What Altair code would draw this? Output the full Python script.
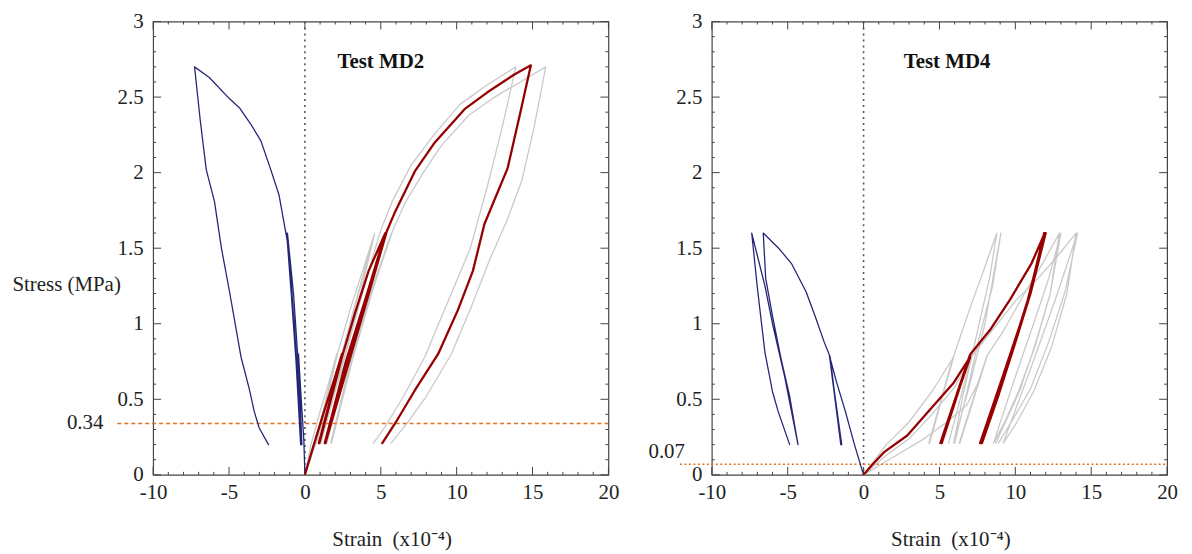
import altair as alt
import pandas as pd

# ---------------- data ----------------
# Test MD2 - lateral strain (blue)
md2_lat_x = [0, -0.07, -0.28, -0.42, -0.2, -0.45, -0.22, -0.48, -0.75, -1.15, -0.85, -0.5, -0.25,
             -0.7, -1.2, -0.9, -0.55, -0.28, -0.75, -1.05, -1.27, -1.7, -2.25, -2.9, -3.56, -4.32,
             -4.98, -6.3, -7.27, -6.9, -6.5, -5.96, -5.5, -4.98, -4.21, -3.67, -3.34, -3.01, -2.40]
md2_lat_y = [0, 0.23, 0.56, 0.8, 0.2, 0.8, 0.2, 0.8, 1.2, 1.6, 1.2, 0.7, 0.2,
             1.0, 1.6, 1.2, 0.7, 0.2, 1.05, 1.48, 1.61, 1.85, 2.02, 2.21, 2.32, 2.43,
             2.49, 2.63, 2.70, 2.35, 2.02, 1.81, 1.5, 1.22, 0.78, 0.57, 0.42, 0.31, 0.20]
# Test MD2 - axial strain (red)
md2_ax_x = [0, 0.5, 1.2, 1.9, 2.45, 0.92, 2.45, 0.95, 2.5, 3.3, 4.2, 5.3, 4.1, 2.7, 1.31,
            3.0, 4.3, 5.3, 4.0, 2.6, 1.35, 3.2, 4.5, 5.39, 5.94, 7.25, 8.56, 10.52, 12.0, 13.8,
            14.89, 14.2, 13.36, 11.83, 11.07, 10.08, 8.78, 7.25, 5.94, 5.1]
md2_ax_y = [0, 0.17, 0.4, 0.62, 0.8, 0.21, 0.8, 0.21, 0.8, 1.07, 1.35, 1.6, 1.2, 0.75, 0.21,
            0.8, 1.25, 1.6, 1.15, 0.68, 0.21, 0.85, 1.3, 1.61, 1.74, 2.01, 2.2, 2.42, 2.53, 2.65,
            2.71, 2.4, 2.03, 1.66, 1.35, 1.09, 0.80, 0.56, 0.34, 0.21]
# Test MD2 - other specimens (grey)
md2_g1_x = [0, 0.4, 1.0, 1.6, 2.1, 0.7, 2.1, 0.75, 2.15, 3.0, 3.8, 4.6, 3.4, 2.2, 1.0, 3.2, 4.6,
            3.5, 2.3, 1.05, 3.1, 4.2, 5.0, 5.8, 7.0, 8.5, 10.2, 12.0, 13.9,
            13.0, 12.05, 10.9, 9.65, 8.6, 7.9, 6.5, 5.3, 4.52]
md2_g1_y = [0, 0.2, 0.42, 0.62, 0.8, 0.21, 0.8, 0.21, 0.8, 1.1, 1.35, 1.6, 1.15, 0.7, 0.21, 1.0, 1.6,
            1.2, 0.75, 0.21, 0.95, 1.35, 1.62, 1.82, 2.05, 2.25, 2.45, 2.58, 2.70,
            2.3, 1.92, 1.5, 1.2, 0.95, 0.78, 0.52, 0.32, 0.21]
md2_g2_x = [0, 0.7, 1.5, 2.3, 2.9, 1.4, 2.9, 1.45, 2.95, 4.0, 5.7, 4.3, 3.0, 1.7, 3.6, 5.7,
            4.4, 3.1, 1.75, 3.7, 5.8, 6.6, 7.8, 9.0, 10.8, 12.5, 14.2, 15.87,
            15.1, 14.3, 13.3, 12.16, 11.0, 9.65, 8.0, 6.8, 5.68]
md2_g2_y = [0, 0.2, 0.45, 0.65, 0.8, 0.21, 0.8, 0.21, 0.8, 1.1, 1.6, 1.2, 0.75, 0.21, 1.0, 1.6,
            1.2, 0.75, 0.21, 1.0, 1.62, 1.8, 2.0, 2.18, 2.38, 2.5, 2.6, 2.70,
            2.3, 1.95, 1.68, 1.42, 1.12, 0.80, 0.52, 0.35, 0.21]

# Test MD4 - lateral strain (blue)
md4_lat_x = [0, -0.6, -1.2, -1.8, -2.25, -1.44, -2.25, -1.5, -2.2, -2.6, -3.12, -3.78, -4.76, -5.6,
             -6.61, -6.45, -6.0, -5.42, -4.87, -4.32, -5.2, -6.0, -6.5, -7.37,
             -7.0, -6.5, -6.0, -5.63, -4.87]
md4_lat_y = [0, 0.2, 0.42, 0.62, 0.79, 0.2, 0.79, 0.2, 0.78, 0.88, 1.03, 1.21, 1.40, 1.5,
             1.60, 1.3, 1.05, 0.76, 0.52, 0.2, 0.65, 1.0, 1.25, 1.60,
             1.24, 0.81, 0.55, 0.42, 0.2]
# Test MD4 - axial strain (red)
md4_ax_x = [0, 0.6, 1.35, 2.88, 4.63, 5.94, 7.03, 5.06, 7.0, 5.15, 7.05, 8.34, 9.65, 11.07, 11.94,
            10.8, 9.8, 8.7, 7.68, 9.0, 10.0, 11.0, 11.9, 10.9, 9.9, 8.8, 7.75,
            9.1, 10.2, 11.1, 12.0, 11.0, 9.95, 8.9, 7.8]
md4_ax_y = [0, 0.07, 0.15, 0.26, 0.46, 0.61, 0.78, 0.21, 0.79, 0.21, 0.8, 0.96, 1.16, 1.40, 1.60,
            1.15, 0.83, 0.5, 0.21, 0.6, 0.9, 1.2, 1.6, 1.18, 0.85, 0.52, 0.21,
            0.62, 0.95, 1.25, 1.6, 1.2, 0.86, 0.53, 0.21]
# Test MD4 - other specimens (grey)
md4_ga_x = [0, 1.5, 3.0, 4.5, 5.94, 4.3, 5.9, 4.35, 5.95, 7.0, 7.9, 8.78, 8.3, 7.5, 6.6, 5.94,
            7.0, 8.0, 9.05, 8.5, 7.6, 6.7, 6.0]
md4_ga_y = [0, 0.2, 0.35, 0.55, 0.78, 0.21, 0.78, 0.21, 0.79, 1.1, 1.35, 1.6, 1.3, 0.95, 0.55, 0.21,
            0.6, 1.0, 1.6, 1.25, 0.9, 0.5, 0.21]
md4_gb_x = [0, 2.0, 4.0, 5.5, 6.8, 7.5, 8.12, 6.3, 8.1, 6.35, 8.15, 9.2, 10.6, 11.8, 12.9,
            12.3, 11.3, 10.2, 9.3, 8.56, 10.0, 11.2, 12.2, 13.0, 12.3, 11.3, 10.3, 9.4, 8.7]
md4_gb_y = [0, 0.12, 0.24, 0.35, 0.46, 0.6, 0.78, 0.21, 0.78, 0.21, 0.79, 0.95, 1.2, 1.4, 1.6,
            1.2, 0.85, 0.55, 0.35, 0.21, 0.65, 1.0, 1.3, 1.6, 1.2, 0.86, 0.56, 0.36, 0.21]
md4_gc_x = [0, 1.5, 3.0, 4.5, 6.0, 7.1, 5.6, 7.1, 8.5, 10.0, 11.5, 12.8, 14.0,
            13.4, 12.4, 11.2, 10.0, 9.2, 11.0, 12.6, 14.1, 13.3, 12.2, 11.0, 9.8, 8.88]
md4_gc_y = [0, 0.13, 0.24, 0.4, 0.58, 0.78, 0.21, 0.78, 0.96, 1.15, 1.3, 1.45, 1.6,
            1.2, 0.85, 0.55, 0.33, 0.21, 0.7, 1.15, 1.6, 1.22, 0.88, 0.57, 0.36, 0.21]

panel_titles = ["Test MD2", "Test MD4"]
title_pos_x = [5.0, 5.5]
title_pos_y = [2.73, 2.73]
thresholds = [0.34, 0.07]
threshold_labels = ["0.34", "0.07"]

x_major = [-10, -5, 0, 5, 10, 15, 20]
y_major = [0, 0.5, 1, 1.5, 2, 2.5, 3]
x_minor = [v for v in range(-10, 21) if v % 5 != 0]
y_minor = [i / 10 for i in range(31) if i % 5 != 0]

# ---------------- styling ----------------
W, H = 458, 456
FONT = "Liberation Serif"
TXT = "#222222"
FRAME = "#444444"
BLUE = "#262678"
RED = "#960000"
GREY = "#c9c9c9"
ORANGE = "#e0701e"

x_scale = alt.Scale(domain=[-10, 20], nice=False, zero=False)
y_scale = alt.Scale(domain=[0, 3], nice=False, zero=False)


def path_df(xs, ys, name):
    return pd.DataFrame({"x": xs, "y": ys, "series": name, "idx": list(range(len(xs)))})


def make_axes(show_ytitle):
    xaxis = alt.Axis(values=x_major, labelExpr="'' + datum.value", ticks=False, domain=False,
                     grid=False, labelFont=FONT, labelFontSize=21, labelColor=TXT,
                     labelPadding=7, labelFlush=False, labelOverlap=False,
                     title="Strain\u00a0\u00a0(x10\u207b\u2074)", titleFont=FONT, titleFontSize=21,
                     titleFontWeight="normal", titleColor=TXT, titleX=240, titleY=65,
                     titleAlign="center", titleBaseline="middle")
    ykw = dict(values=y_major, labelExpr="'' + datum.value", ticks=False, domain=False,
               grid=False, labelFont=FONT, labelFontSize=21, labelColor=TXT, labelPadding=10,
               labelFlush=False, labelOverlap=False)
    if show_ytitle:
        yaxis = alt.Axis(title="Stress (MPa)", titleFont=FONT, titleFontSize=21,
                         titleFontWeight="normal", titleColor=TXT, titleAngle=0,
                         titleAlign="left", titleBaseline="middle", titleX=-142, titleY=265,
                         **ykw)
    else:
        yaxis = alt.Axis(title=None, **ykw)
    return xaxis, yaxis


def panel(i, grey_dfs, red_df, blue_df, dash, label_x, label_dy, rule_x0, show_ytitle):
    xaxis, yaxis = make_axes(show_ytitle)

    def X(field):
        return alt.X(field, scale=x_scale, axis=xaxis)

    def Y(field):
        return alt.Y(field, scale=y_scale, axis=yaxis)

    def line_layer(dfs, color, width):
        df = pd.concat(dfs, ignore_index=True)
        return alt.Chart(df).mark_line(color=color, strokeWidth=width, strokeJoin="round",
                                       strokeCap="round", clip=True).encode(
            x=X("x:Q"), y=Y("y:Q"), detail="series:N", order="idx:Q")

    layers = [line_layer(grey_dfs, GREY, 1.3)]

    # inward ticks on all four sides
    for vals, size in ((x_major, 8), (x_minor, 3)):
        base = alt.Chart(pd.DataFrame({"x": vals})).mark_rule(color=FRAME, strokeWidth=1)
        layers.append(base.encode(x=X("x:Q"), y=alt.value(H), y2=alt.value(H - size)))
        layers.append(base.encode(x=X("x:Q"), y=alt.value(0), y2=alt.value(size)))
    for vals, size in ((y_major, 8), (y_minor, 3)):
        base = alt.Chart(pd.DataFrame({"y": vals})).mark_rule(color=FRAME, strokeWidth=1)
        layers.append(base.encode(y=Y("y:Q"), x=alt.value(0), x2=alt.value(size)))
        layers.append(base.encode(y=Y("y:Q"), x=alt.value(W), x2=alt.value(W - size)))

    # dotted zero-strain line
    layers.append(alt.Chart(pd.DataFrame({"x": [0]})).mark_rule(
        color="#555555", strokeDash=[2, 4], strokeWidth=1.6).encode(
        x=X("x:Q"), y=alt.value(0), y2=alt.value(H)))

    # threshold line + label
    thr_df = pd.DataFrame({"y": [thresholds[i]], "label": [threshold_labels[i]]})
    layers.append(alt.Chart(thr_df).mark_rule(color=ORANGE, strokeDash=dash, strokeWidth=1.4).encode(
        y=Y("y:Q"), x=alt.value(rule_x0), x2=alt.value(W)))
    layers.append(alt.Chart(thr_df).mark_text(font=FONT, fontSize=21, color=TXT, align="right",
                                              baseline="middle", dy=label_dy).encode(
        y=Y("y:Q"), x=alt.value(label_x), text="label:N"))

    layers.append(line_layer([blue_df], BLUE, 1.3))
    layers.append(line_layer([red_df], RED, 2.3))

    ttl_df = pd.DataFrame({"x": [title_pos_x[i]], "y": [title_pos_y[i]], "t": [panel_titles[i]]})
    layers.append(alt.Chart(ttl_df).mark_text(font=FONT, fontSize=21, fontWeight="bold",
                                              color="#111111", align="center",
                                              baseline="middle").encode(
        x=X("x:Q"), y=Y("y:Q"), text="t:N"))

    return alt.layer(*layers).properties(width=W, height=H)


left = panel(0,
             [path_df(md2_g1_x, md2_g1_y, "g1"), path_df(md2_g2_x, md2_g2_y, "g2")],
             path_df(md2_ax_x, md2_ax_y, "ax"), path_df(md2_lat_x, md2_lat_y, "lat"),
             [4, 3], -50, 0, -36, True)
right = panel(1,
              [path_df(md4_ga_x, md4_ga_y, "ga"), path_df(md4_gb_x, md4_gb_y, "gb"),
               path_df(md4_gc_x, md4_gc_y, "gc")],
              path_df(md4_ax_x, md4_ax_y, "ax"), path_df(md4_lat_x, md4_lat_y, "lat"),
              [2, 2.5], -27, -12, -32, False)

chart = alt.hconcat(left, right, spacing=27).properties(
    padding={"left": 3, "top": 0, "right": 5, "bottom": 0},
    background="white",
).configure_view(stroke=FRAME, strokeWidth=1.2)

chart.save("out.html", embed_options={"renderer": "svg", "actions": False})
